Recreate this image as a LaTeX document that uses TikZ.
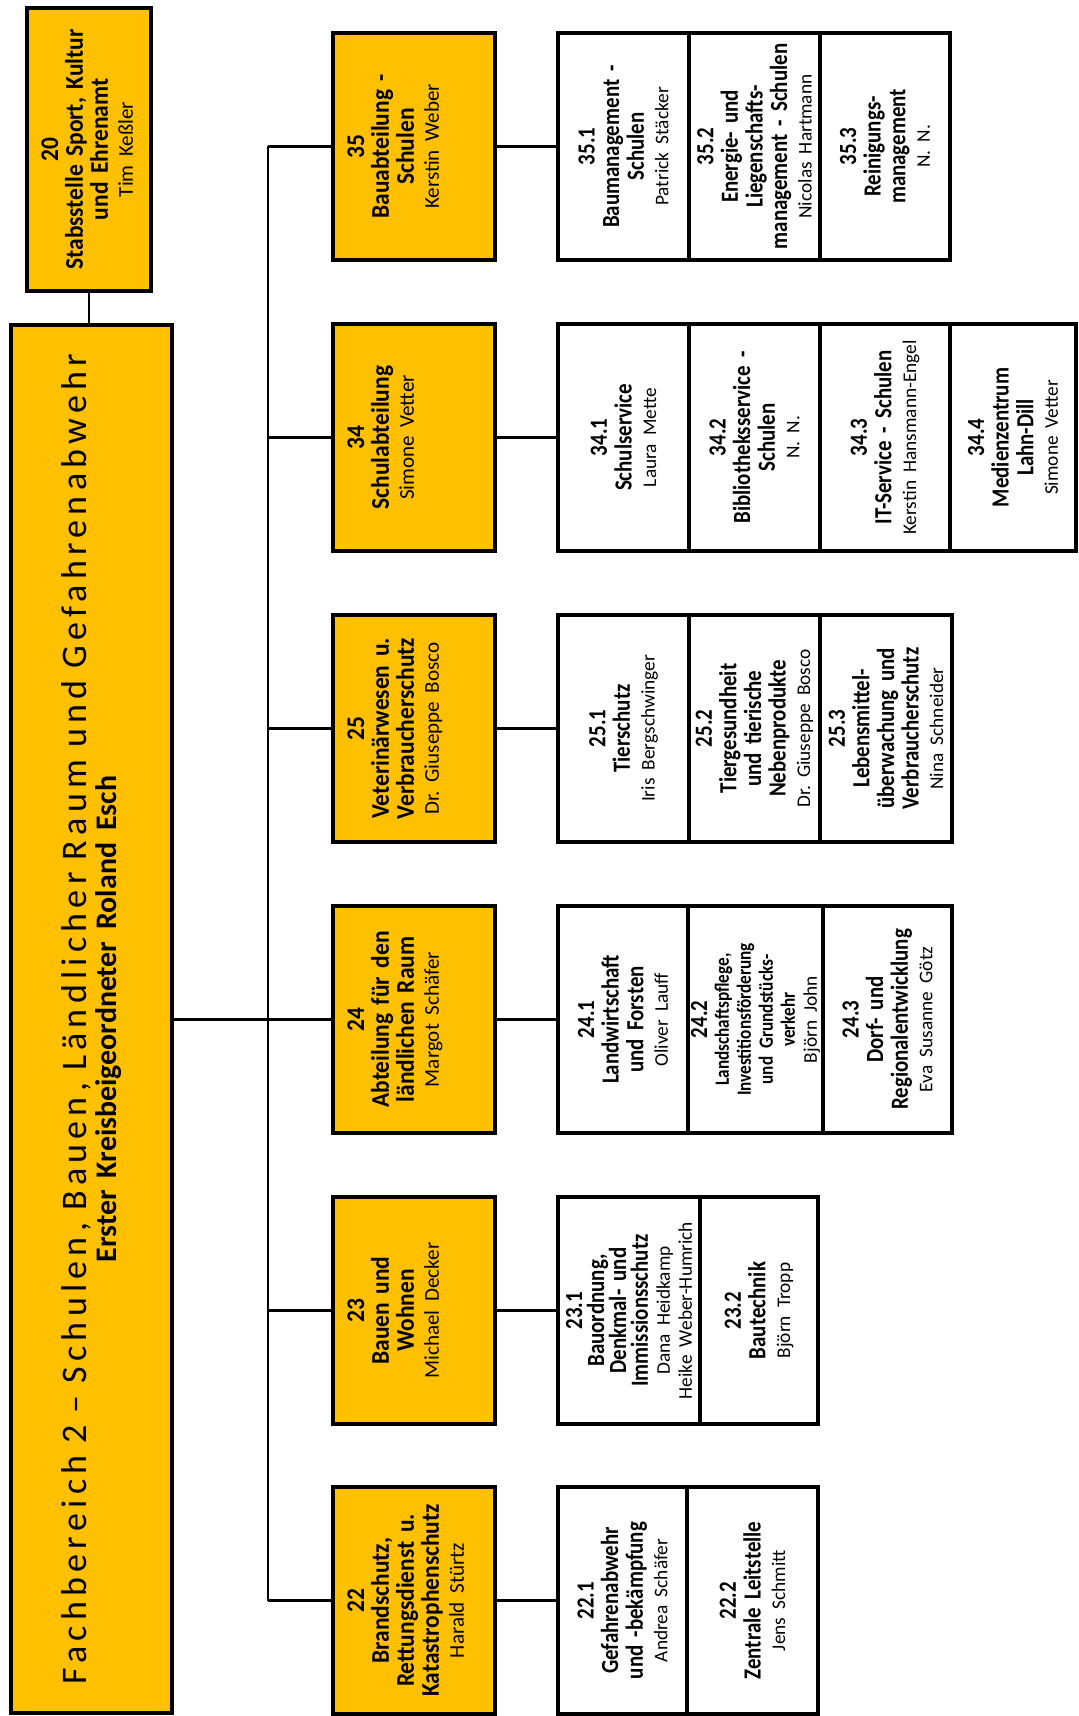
\documentclass[tikz,border=0pt]{standalone}
\usepackage{fontspec}
\setmainfont{Carlito}
\newfontfamily\spacedfamily[LetterSpace=14.6,WordSpace=1.4]{Carlito}
\newfontfamily\deptfamily[FakeStretch=0.92]{Carlito}
\newfontfamily\cellfamily[FakeStretch=0.85]{Carlito}
\usetikzlibrary{positioning}
\definecolor{fbgold}{HTML}{FFC000}
\frenchspacing
\newcommand\pxu{0.02cm}
\newcommand\fbdeptfont{\deptfamily\bfseries\fontsize{14.5}{14.2}\selectfont\def\namesize{\fontsize{12}{14}\selectfont}}
\newcommand\fbcellfont{\cellfamily\bfseries\fontsize{14}{14}\selectfont\def\namesize{\fontsize{11}{14}\selectfont}}
\newcommand\who[1]{\mbox{\rmfamily\mdseries\namesize #1}}
\tikzstyle{orgbox} = [draw, line width=2.3pt, rotate=90, align=center, outer sep=0pt, inner sep=1pt]
\tikzstyle{dept} = [orgbox, fill=fbgold, minimum width=227*\pxu, minimum height=162*\pxu, text width=219*\pxu, text height=29*\pxu, text depth=129*\pxu, font=\fbdeptfont]
\tikzstyle{cell} = [orgbox, fill=white, minimum width=227*\pxu, minimum height=131*\pxu, text width=221*\pxu, font=\fbcellfont]
\tikzstyle{link} = [line width=1.7pt]

\begin{document}
\begin{tikzpicture}[x=\pxu, y=-\pxu]
	\useasboundingbox (0,0) rectangle (1078,1716);
	
	% Fachbereich and Stabsstelle
	\node[orgbox, fill=fbgold, minimum width=1388*\pxu, minimum height=161*\pxu, text width=1370*\pxu, font=\spacedfamily\fontsize{20.5}{17.6}\selectfont] (main) at (91.5,1019) {Fachbereich 2 – Schulen, Bauen, Ländlicher Raum und Gefahrenabwehr\\{\rmfamily\bfseries\fontsize{17}{17}\selectfont Erster Kreisbeigeordneter Roland Esch}};
	\node[dept, minimum width=283*\pxu, minimum height=124*\pxu, text width=275*\pxu, text depth=91*\pxu] (s20) at (89,149.5) {20\\Stabsstelle Sport, Kultur\\und Ehrenamt\\\who{Tim Keßler}};
	
	% Abteilungen
	\node[dept] (d35) at (414,146.5) {35\\Bauabteilung -\\Schulen\\\who{Kerstin Weber}};
	\node[dept] (d34) at (414,437.5) {34\\Schulabteilung\\\who{Simone Vetter}};
	\node[dept] (d25) at (414,728.5) {25\\Veterinärwesen u.\\Verbraucherschutz\\\who{Dr. Giuseppe Bosco}};
	\node[dept] (d24) at (414,1019.5) {24\\Abteilung für den\\ländlichen Raum\\\who{Margot Schäfer}};
	\node[dept] (d23) at (414,1310.5) {23\\Bauen und\\Wohnen\\\who{Michael Decker}};
	\node[dept] (d22) at (414,1600.5) {22\\Brandschutz,\\Rettungsdienst u.\\Katastrophenschutz\\\who{Harald Stürtz}};
	
	% Sachgebiete 35
	\node[cell, anchor=north] (c351) at (558,146.5) {35.1\\Baumanagement -\\Schulen\\\who{Patrick Stäcker}};
	\node[cell, below=0pt of c351] (c352) {35.2\\Energie- und\\Liegenschafts-\\management - Schulen\\\who{Nicolas Hartmann}};
	\node[cell, below=0pt of c352, minimum height=130*\pxu] (c353) {35.3\\Reinigungs-\\management\\\who{N. N.}};
	
	% Sachgebiete 34
	\node[cell, anchor=north] (c341) at (558,437.5) {34.1\\Schulservice\\\who{Laura Mette}};
	\node[cell, below=0pt of c341] (c342) {34.2\\Bibliotheksservice -\\Schulen\\\who{N. N.}};
	\node[cell, below=0pt of c342, minimum height=130*\pxu] (c343) {34.3\\IT-Service - Schulen\\\who{Kerstin Hansmann-Engel}};
	\node[cell, below=0pt of c343, minimum height=126*\pxu] (c344) {34.4\\Medienzentrum\\Lahn-Dill\\\who{Simone Vetter}};
	
	% Sachgebiete 25
	\node[cell, anchor=north] (c251) at (558,728.5) {25.1\\Tierschutz\\\who{Iris Bergschwinger}};
	\node[cell, below=0pt of c251] (c252) {25.2\\Tiergesundheit\\und tierische\\Nebenprodukte\\\who{Dr. Giuseppe Bosco}};
	\node[cell, below=0pt of c252, minimum height=132*\pxu] (c253) {25.3\\Lebensmittel-\\überwachung und\\Verbraucherschutz\\\who{Nina Schneider}};
	
	% Sachgebiete 24
	\node[cell, anchor=north, minimum height=130*\pxu] (c241) at (558,1019.5) {24.1\\Landwirtschaft\\und Forsten\\\who{Oliver Lauff}};
	\node[cell, below=0pt of c241, minimum height=135*\pxu, font=\fbcellfont\fontsize{14}{12.5}\selectfont] (c242) {24.2\\{\fontsize{11.5}{12.5}\selectfont Landschaftspflege,\\Investitionsförderung\\und Grundstücks-\\verkehr}\\\who{Björn John}};
	\node[cell, below=0pt of c242, minimum height=129*\pxu] (c243) {24.3\\Dorf- und\\Regionalentwicklung\\\who{Eva Susanne Götz}};
	
	% Sachgebiete 23
	\node[cell, anchor=north, minimum height=142*\pxu, font=\fbcellfont\fontsize{14}{12.5}\selectfont] (c231) at (558,1310.5) {23.1\\Bauordnung,\\Denkmal- und\\Immissionsschutz\\\who{Dana Heidkamp}\\\who{Heike Weber-Humrich}};
	\node[cell, below=0pt of c231, minimum height=118*\pxu] (c232) {23.2\\Bautechnik\\\who{Björn Tropp}};
	
	% Sachgebiete 22
	\node[cell, anchor=north, minimum height=129*\pxu] (c221) at (558,1600.5) {22.1\\Gefahrenabwehr\\und -bekämpfung\\\who{Andrea Schäfer}};
	\node[cell, below=0pt of c221] (c222) {22.2\\Zentrale Leitstelle\\\who{Jens Schmitt}};
	
	% connections
	\coordinate (bus) at (268,1019);
	\draw[link] (s20.west) -- (s20.west |- main.east);
	\draw[link] (main.south) -- (bus);
	\draw[link] (bus |- d35.north) -- (bus |- d22.north);
	\draw[link] (bus |- d35.north) -- (d35.north);
	\draw[link] (bus |- d34.north) -- (d34.north);
	\draw[link] (bus |- d25.north) -- (d25.north);
	\draw[link] (bus |- d24.north) -- (d24.north);
	\draw[link] (bus |- d23.north) -- (d23.north);
	\draw[link] (bus |- d22.north) -- (d22.north);
	\draw[link] (d35.south) -- (c351.north);
	\draw[link] (d34.south) -- (c341.north);
	\draw[link] (d25.south) -- (c251.north);
	\draw[link] (d24.south) -- (c241.north);
	\draw[link] (d23.south) -- (c231.north);
	\draw[link] (d22.south) -- (c221.north);
	
\end{tikzpicture}
\end{document}
